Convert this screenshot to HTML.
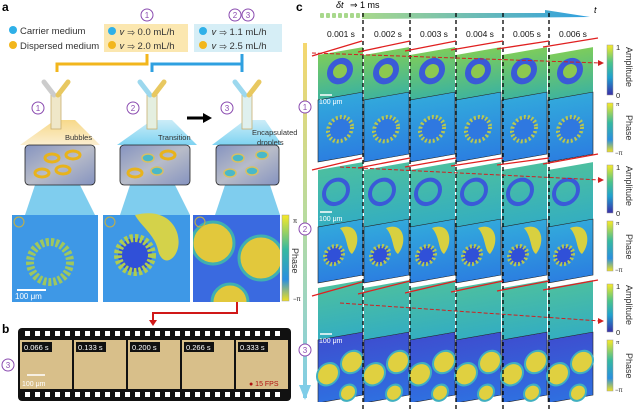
<!DOCTYPE html><html><head><style>body{margin:0;background:#fff}svg{display:block;font-family:"Liberation Sans",sans-serif}</style></head><body>
<svg width="639" height="410" viewBox="0 0 639 410" xmlns="http://www.w3.org/2000/svg">
<defs>
<linearGradient id="vbar" x1="0" y1="0" x2="0" y2="1"><stop offset="0" stop-color="#f5d76e"/><stop offset="0.5" stop-color="#b6dba0"/><stop offset="1" stop-color="#7fcde8"/></linearGradient>
<linearGradient id="cb" x1="0" y1="0" x2="0" y2="1"><stop offset="0" stop-color="#f9e926"/><stop offset="0.35" stop-color="#4cc48a"/><stop offset="0.65" stop-color="#1fa0cf"/><stop offset="1" stop-color="#3a2fa8"/></linearGradient>
<linearGradient id="cbp" x1="0" y1="0" x2="0" y2="1"><stop offset="0" stop-color="#f9e926"/><stop offset="0.4" stop-color="#36b9a0"/><stop offset="0.75" stop-color="#2a8fe0"/><stop offset="1" stop-color="#f0e020"/></linearGradient>
<linearGradient id="tarr" x1="0" y1="0" x2="1" y2="0"><stop offset="0" stop-color="#a8d88c"/><stop offset="1" stop-color="#2e9fe0"/></linearGradient>
<linearGradient id="amp1" x1="0" y1="0" x2="0" y2="1"><stop offset="0" stop-color="#7ccc5c"/><stop offset="1" stop-color="#3fb49c"/></linearGradient>
<linearGradient id="amp2" x1="0" y1="0" x2="0" y2="1"><stop offset="0" stop-color="#4cbfa0"/><stop offset="1" stop-color="#34aec0"/></linearGradient>
<linearGradient id="ph" x1="0" y1="0" x2="0" y2="1"><stop offset="0" stop-color="#32a8dc"/><stop offset="1" stop-color="#2b7fe0"/></linearGradient>
<linearGradient id="ph3" x1="0" y1="0" x2="0" y2="1"><stop offset="0" stop-color="#3d4fd0"/><stop offset="1" stop-color="#2f6fe0"/></linearGradient>
<linearGradient id="beamY" x1="0" y1="0" x2="0" y2="1"><stop offset="0" stop-color="#f7d98a"/><stop offset="1" stop-color="#fbeed0"/></linearGradient>
<linearGradient id="beamB" x1="0" y1="0" x2="0" y2="1"><stop offset="0" stop-color="#bfe8f6"/><stop offset="1" stop-color="#5ec8ee"/></linearGradient>
<linearGradient id="chip" x1="0" y1="0" x2="1" y2="1"><stop offset="0" stop-color="#8593c0"/><stop offset="0.5" stop-color="#b8bcc8"/><stop offset="1" stop-color="#8593c0"/></linearGradient>
</defs>

<text x="2" y="11" font-size="12" font-weight="bold">a</text>
<circle cx="13" cy="30" r="4" fill="#2fb0e8"/><text x="20" y="34" font-size="9.5" fill="#333">Carrier medium</text>
<circle cx="13" cy="45" r="4" fill="#f2b61c"/><text x="20" y="49" font-size="9.5" fill="#333">Dispersed medium</text>
<rect x="104" y="24" width="84" height="28" fill="#fbe7b0"/>
<circle cx="112" cy="31" r="4" fill="#2fb0e8"/><text x="120" y="35" font-size="9.5" fill="#333">𝜈 ⇒ 0.0 mL/h</text>
<circle cx="112" cy="45" r="4" fill="#f2b61c"/><text x="120" y="49" font-size="9.5" fill="#333">𝜈 ⇒ 2.0 mL/h</text>
<rect x="194" y="24" width="88" height="28" fill="#d6eef6"/>
<circle cx="203" cy="31" r="4" fill="#2fb0e8"/><text x="212" y="35" font-size="9.5" fill="#333">𝜈 ⇒ 1.1 mL/h</text>
<circle cx="203" cy="45" r="4" fill="#f2b61c"/><text x="212" y="49" font-size="9.5" fill="#333">𝜈 ⇒ 2.5 mL/h</text>
<g fill="none" stroke="#8a4bb0" stroke-width="1"><circle cx="147" cy="15" r="6"/><circle cx="235" cy="15" r="6"/><circle cx="248" cy="15" r="6"/></g>
<g font-size="8" fill="#8a4bb0" text-anchor="middle"><text x="147" y="18">1</text><text x="235" y="18">2</text><text x="248" y="18">3</text></g>
<path d="M147 54 V64 H57 V72" fill="none" stroke="#f2b61c" stroke-width="3"/>
<path d="M242 54 V64 H152 V72" fill="none" stroke="#2fa0e0" stroke-width="3"/>
<path d="M242 64 V72" stroke="#2fa0e0" stroke-width="3"/>
<g>
<polygon points="55,120 20,145 100,145 75,120" fill="url(#beamY)"/>
<polygon points="152,120 117,145 197,145 172,120" fill="url(#beamB)" opacity="0.8"/>
<polygon points="245,120 212,145 282,145 265,120" fill="url(#beamB)" opacity="0.8"/>
<polygon points="35,185 25,215 95,215 80,185" fill="#7fcdee"/>
<polygon points="130,185 120,215 190,215 175,185" fill="#7fcdee"/>
<polygon points="225,185 215,215 280,215 270,185" fill="#7fcdee"/>
</g>
<g fill="#efe7c8" stroke="#c8b070" stroke-width="0.8">
<rect x="51" y="95" width="10" height="34"/><rect x="147" y="95" width="10" height="34" fill="#e4efe0"/><rect x="242" y="95" width="10" height="34" fill="#dff0ee"/>
</g>
<g stroke-width="5" stroke-linecap="round">
<path d="M44 82 L54 95" stroke="#ccc"/><path d="M68 82 L58 95" stroke="#e8c860"/>
<path d="M140 82 L150 95" stroke="#9cd8ee"/><path d="M164 82 L154 95" stroke="#e8c860"/>
<path d="M235 82 L245 95" stroke="#9cd8ee"/><path d="M259 82 L249 95" stroke="#e8c860"/>
</g>
<g fill="none" stroke="#8a4bb0"><circle cx="38" cy="108" r="6"/><circle cx="133" cy="108" r="6"/><circle cx="227" cy="108" r="6"/></g>
<g font-size="8" fill="#8a4bb0" text-anchor="middle"><text x="38" y="111">1</text><text x="133" y="111">2</text><text x="227" y="111">3</text></g>
<path d="M187 118 H205" stroke="#000" stroke-width="3"/><polygon points="203,113 212,118 203,123"/>
<g font-size="7.5" fill="#333"><text x="65" y="140">Bubbles</text><text x="158" y="140">Transition</text><text x="252" y="135">Encapsulated</text><text x="257" y="145">droplets</text></g>
<g stroke="#222" stroke-width="0.8">
<rect x="25" y="145" width="70" height="40" rx="4" fill="url(#chip)"/>
<rect x="120" y="145" width="70" height="40" rx="4" fill="url(#chip)"/>
<rect x="216" y="145" width="63" height="40" rx="4" fill="url(#chip)"/>
</g>
<g fill="none" stroke="#e8b31c" stroke-width="3">
<ellipse cx="52" cy="158" rx="7" ry="4"/><ellipse cx="73" cy="155" rx="7" ry="4"/><ellipse cx="42" cy="173" rx="7" ry="4"/><ellipse cx="63" cy="170" rx="7" ry="4"/>
<ellipse cx="168" cy="155" rx="7" ry="4"/><ellipse cx="135" cy="173" rx="7" ry="4"/>
</g>
<g fill="#4ab8c8" stroke="#d8c060" stroke-width="1.5">
<ellipse cx="148" cy="158" rx="6" ry="4"/><ellipse cx="157" cy="171" rx="6" ry="4"/>
<ellipse cx="238" cy="158" rx="6" ry="4"/><ellipse cx="262" cy="155" rx="6" ry="4"/><ellipse cx="230" cy="173" rx="6" ry="4"/><ellipse cx="252" cy="171" rx="6" ry="4"/>
</g>
<rect x="12" y="215" width="86" height="87" fill="#3e98e6"/>
<circle cx="50" cy="262" r="20" fill="none" stroke="#a8cc50" stroke-width="8" stroke-dasharray="3 2" opacity="0.9"/>
<rect x="103" y="215" width="87" height="87" fill="#3e98e6"/>
<path d="M135 215 C175 205 185 240 175 255 C168 265 160 260 158 250 C155 235 140 225 135 215Z" fill="#d4d24a"/>
<circle cx="135" cy="255" r="17" fill="#3050d8" stroke="#b0cc50" stroke-width="8" stroke-dasharray="3 2"/>
<svg x="193" y="215" width="87" height="87"><rect width="87" height="87" fill="#3a6ae0"/>
<g fill="#e2c83c" stroke="#40b0b0" stroke-width="3"><circle cx="20" cy="28" r="21"/><circle cx="68" cy="43" r="22"/><circle cx="37" cy="87" r="18"/></g></svg>
<rect x="282" y="215" width="7" height="86" fill="url(#cbp)" stroke="#999" stroke-width="0.5"/>
<text x="293" y="223" font-size="6">π</text><text x="293" y="301" font-size="6">−π</text>
<text transform="translate(292,248) rotate(90)" font-size="9" fill="#333">Phase</text>
<g fill="none" stroke="#c8b040"><circle cx="19" cy="222" r="5"/><circle cx="110" cy="222" r="5"/><circle cx="200" cy="222" r="5"/></g>
<path d="M17 290 H46" stroke="#fff" stroke-width="2"/><text x="15" y="299" font-size="8" fill="#fff">100 μm</text>
<path d="M237 302 V313 H153 V322" fill="none" stroke="#d01818" stroke-width="2"/><polygon points="149,320 157,320 153,326" fill="#d01818"/>
<text x="2" y="333" font-size="12" font-weight="bold">b</text>
<rect x="18" y="328" width="273" height="73" rx="4" fill="#111"/>
<g fill="#fff">
<rect x="25" y="331" width="5" height="5"/><rect x="35" y="331" width="5" height="5"/><rect x="45" y="331" width="5" height="5"/><rect x="55" y="331" width="5" height="5"/><rect x="65" y="331" width="5" height="5"/><rect x="75" y="331" width="5" height="5"/><rect x="85" y="331" width="5" height="5"/><rect x="95" y="331" width="5" height="5"/><rect x="105" y="331" width="5" height="5"/><rect x="115" y="331" width="5" height="5"/><rect x="125" y="331" width="5" height="5"/><rect x="135" y="331" width="5" height="5"/><rect x="145" y="331" width="5" height="5"/><rect x="155" y="331" width="5" height="5"/><rect x="165" y="331" width="5" height="5"/><rect x="175" y="331" width="5" height="5"/><rect x="185" y="331" width="5" height="5"/><rect x="195" y="331" width="5" height="5"/><rect x="205" y="331" width="5" height="5"/><rect x="215" y="331" width="5" height="5"/><rect x="225" y="331" width="5" height="5"/><rect x="235" y="331" width="5" height="5"/><rect x="245" y="331" width="5" height="5"/><rect x="255" y="331" width="5" height="5"/><rect x="265" y="331" width="5" height="5"/><rect x="275" y="331" width="5" height="5"/>
<rect x="25" y="392" width="5" height="5"/><rect x="35" y="392" width="5" height="5"/><rect x="45" y="392" width="5" height="5"/><rect x="55" y="392" width="5" height="5"/><rect x="65" y="392" width="5" height="5"/><rect x="75" y="392" width="5" height="5"/><rect x="85" y="392" width="5" height="5"/><rect x="95" y="392" width="5" height="5"/><rect x="105" y="392" width="5" height="5"/><rect x="115" y="392" width="5" height="5"/><rect x="125" y="392" width="5" height="5"/><rect x="135" y="392" width="5" height="5"/><rect x="145" y="392" width="5" height="5"/><rect x="155" y="392" width="5" height="5"/><rect x="165" y="392" width="5" height="5"/><rect x="175" y="392" width="5" height="5"/><rect x="185" y="392" width="5" height="5"/><rect x="195" y="392" width="5" height="5"/><rect x="205" y="392" width="5" height="5"/><rect x="215" y="392" width="5" height="5"/><rect x="225" y="392" width="5" height="5"/><rect x="235" y="392" width="5" height="5"/><rect x="245" y="392" width="5" height="5"/><rect x="255" y="392" width="5" height="5"/><rect x="265" y="392" width="5" height="5"/><rect x="275" y="392" width="5" height="5"/>
</g>
<g fill="#d8bf8a"><rect x="20" y="340" width="52" height="49"/><rect x="74" y="340" width="52" height="49"/><rect x="128" y="340" width="52" height="49"/><rect x="182" y="340" width="52" height="49"/><rect x="236" y="340" width="52" height="49"/></g>
<g fill="#111"><rect x="22" y="342" width="30" height="10"/><rect x="76" y="342" width="30" height="10"/><rect x="130" y="342" width="30" height="10"/><rect x="184" y="342" width="30" height="10"/><rect x="238" y="342" width="30" height="10"/></g>
<g font-size="7.5" fill="#fff"><text x="24" y="350">0.066 s</text><text x="78" y="350">0.133 s</text><text x="132" y="350">0.200 s</text><text x="186" y="350">0.266 s</text><text x="240" y="350">0.333 s</text></g>
<path d="M27 375 H45" stroke="#fff" stroke-width="1.5"/><text x="22" y="386" font-size="7" fill="#fff">100 μm</text>
<text x="249" y="386" font-size="7" fill="#b01010">● 15 FPS</text>
<circle cx="8" cy="365" r="6" fill="none" stroke="#8a4bb0"/><text x="8" y="368" font-size="8" fill="#8a4bb0" text-anchor="middle">3</text>

<text x="296" y="11" font-size="12" font-weight="bold">c</text>
<rect x="303" y="43" width="4" height="355" fill="url(#vbar)"/>
<polygon points="299,385 311,385 305,400" fill="#7fcde8"/>
<g fill="#fff" stroke="#8a4bb0"><circle cx="305" cy="107" r="6"/><circle cx="305" cy="229" r="6"/><circle cx="305" cy="350" r="6"/></g>
<g font-size="8" fill="#8a4bb0" text-anchor="middle"><text x="305" y="110">1</text><text x="305" y="232">2</text><text x="305" y="353">3</text></g>
<g fill="#a8d88c"><rect x="320" y="13" width="4" height="5" rx="1"/><rect x="326" y="13" width="4" height="5" rx="1"/><rect x="332" y="13" width="4" height="5" rx="1"/><rect x="338" y="13" width="4" height="5" rx="1"/><rect x="344" y="13" width="4" height="5" rx="1"/><rect x="350" y="13" width="4" height="5" rx="1"/><rect x="356" y="13" width="4" height="5" rx="1"/></g>
<polygon points="362,13 545,13 545,10 590,17 362,19" fill="url(#tarr)"/>
<text x="336" y="8" font-size="9" font-style="italic">δt</text><text x="350" y="8" font-size="9">⇒ 1 ms</text>
<text x="594" y="13" font-size="9" font-style="italic">t</text>
<g font-size="8.5" fill="#111" text-anchor="middle"><text x="341" y="37">0.001 s</text><text x="388" y="37">0.002 s</text><text x="434" y="37">0.003 s</text><text x="480" y="37">0.004 s</text><text x="527" y="37">0.005 s</text><text x="573" y="37">0.006 s</text></g>

<g>
<g transform="translate(318,55) skewY(-10)"><rect width="45" height="45" fill="url(#amp1)"/><rect y="45" width="45" height="62" fill="url(#ph)" stroke="#222" stroke-width="0.6"/><circle cx="22" cy="20" r="10" fill="#8cc850" stroke="#3a5ad8" stroke-width="6"/><circle cx="22" cy="78" r="12" fill="#2f78e0" stroke="#b8c850" stroke-width="4" stroke-dasharray="2 2"/></g>
<g transform="translate(364,55) skewY(-10)"><rect width="45" height="45" fill="url(#amp1)"/><rect y="45" width="45" height="62" fill="url(#ph)" stroke="#222" stroke-width="0.6"/><circle cx="22" cy="20" r="10" fill="#8cc850" stroke="#3a5ad8" stroke-width="6"/><circle cx="22" cy="78" r="12" fill="#2f78e0" stroke="#b8c850" stroke-width="4" stroke-dasharray="2 2"/></g>
<g transform="translate(410,55) skewY(-10)"><rect width="45" height="45" fill="url(#amp1)"/><rect y="45" width="45" height="62" fill="url(#ph)" stroke="#222" stroke-width="0.6"/><circle cx="22" cy="20" r="10" fill="#8cc850" stroke="#3a5ad8" stroke-width="6"/><circle cx="22" cy="78" r="12" fill="#2f78e0" stroke="#b8c850" stroke-width="4" stroke-dasharray="2 2"/></g>
<g transform="translate(456,55) skewY(-10)"><rect width="45" height="45" fill="url(#amp1)"/><rect y="45" width="45" height="62" fill="url(#ph)" stroke="#222" stroke-width="0.6"/><circle cx="22" cy="20" r="10" fill="#8cc850" stroke="#3a5ad8" stroke-width="6"/><circle cx="22" cy="78" r="12" fill="#2f78e0" stroke="#b8c850" stroke-width="4" stroke-dasharray="2 2"/></g>
<g transform="translate(502,55) skewY(-10)"><rect width="45" height="45" fill="url(#amp1)"/><rect y="45" width="45" height="62" fill="url(#ph)" stroke="#222" stroke-width="0.6"/><circle cx="22" cy="20" r="10" fill="#8cc850" stroke="#3a5ad8" stroke-width="6"/><circle cx="22" cy="78" r="12" fill="#2f78e0" stroke="#b8c850" stroke-width="4" stroke-dasharray="2 2"/></g>
<g transform="translate(548,55) skewY(-10)"><rect width="45" height="45" fill="url(#amp1)"/><rect y="45" width="45" height="62" fill="url(#ph)" stroke="#222" stroke-width="0.6"/><circle cx="22" cy="20" r="10" fill="#8cc850" stroke="#3a5ad8" stroke-width="6"/><circle cx="22" cy="78" r="12" fill="#2f78e0" stroke="#b8c850" stroke-width="4" stroke-dasharray="2 2"/></g>
<g transform="translate(318,170) skewY(-10)"><rect width="45" height="57" fill="url(#amp2)"/><rect y="57" width="45" height="56" fill="url(#ph)" stroke="#222" stroke-width="0.6"/><circle cx="18" cy="25" r="12" fill="none" stroke="#3a5ad8" stroke-width="4"/><path d="M22 62 C40 58 44 80 34 90 C28 85 30 72 22 62Z" fill="#d8d040"/><circle cx="16" cy="88" r="9" fill="#3050d8" stroke="#b8c850" stroke-width="4" stroke-dasharray="2 2"/></g>
<g transform="translate(364,170) skewY(-10)"><rect width="45" height="57" fill="url(#amp2)"/><rect y="57" width="45" height="56" fill="url(#ph)" stroke="#222" stroke-width="0.6"/><circle cx="18" cy="25" r="12" fill="none" stroke="#3a5ad8" stroke-width="4"/><path d="M22 62 C40 58 44 80 34 90 C28 85 30 72 22 62Z" fill="#d8d040"/><circle cx="16" cy="88" r="9" fill="#3050d8" stroke="#b8c850" stroke-width="4" stroke-dasharray="2 2"/></g>
<g transform="translate(410,170) skewY(-10)"><rect width="45" height="57" fill="url(#amp2)"/><rect y="57" width="45" height="56" fill="url(#ph)" stroke="#222" stroke-width="0.6"/><circle cx="18" cy="25" r="12" fill="none" stroke="#3a5ad8" stroke-width="4"/><path d="M22 62 C40 58 44 80 34 90 C28 85 30 72 22 62Z" fill="#d8d040"/><circle cx="16" cy="88" r="9" fill="#3050d8" stroke="#b8c850" stroke-width="4" stroke-dasharray="2 2"/></g>
<g transform="translate(456,170) skewY(-10)"><rect width="45" height="57" fill="url(#amp2)"/><rect y="57" width="45" height="56" fill="url(#ph)" stroke="#222" stroke-width="0.6"/><circle cx="18" cy="25" r="12" fill="none" stroke="#3a5ad8" stroke-width="4"/><path d="M22 62 C40 58 44 80 34 90 C28 85 30 72 22 62Z" fill="#d8d040"/><circle cx="16" cy="88" r="9" fill="#3050d8" stroke="#b8c850" stroke-width="4" stroke-dasharray="2 2"/></g>
<g transform="translate(502,170) skewY(-10)"><rect width="45" height="57" fill="url(#amp2)"/><rect y="57" width="45" height="56" fill="url(#ph)" stroke="#222" stroke-width="0.6"/><circle cx="18" cy="25" r="12" fill="none" stroke="#3a5ad8" stroke-width="4"/><path d="M22 62 C40 58 44 80 34 90 C28 85 30 72 22 62Z" fill="#d8d040"/><circle cx="16" cy="88" r="9" fill="#3050d8" stroke="#b8c850" stroke-width="4" stroke-dasharray="2 2"/></g>
<g transform="translate(548,170) skewY(-10)"><rect width="45" height="57" fill="url(#amp2)"/><rect y="57" width="45" height="56" fill="url(#ph)" stroke="#222" stroke-width="0.6"/><circle cx="18" cy="25" r="12" fill="none" stroke="#3a5ad8" stroke-width="4"/><path d="M22 62 C40 58 44 80 34 90 C28 85 30 72 22 62Z" fill="#d8d040"/><circle cx="16" cy="88" r="9" fill="#3050d8" stroke="#b8c850" stroke-width="4" stroke-dasharray="2 2"/></g>
<g transform="translate(318,288) skewY(-10)"><rect width="45" height="52" fill="url(#amp2)"/><rect y="52" width="45" height="63" fill="url(#ph3)" stroke="#222" stroke-width="0.6"/><g fill="#e0d040" stroke="#40b0c0" stroke-width="2"><circle cx="10" cy="88" r="11"/><circle cx="34" cy="80" r="11"/><circle cx="30" cy="110" r="8"/></g></g>
<g transform="translate(364,288) skewY(-10)"><rect width="45" height="52" fill="url(#amp2)"/><rect y="52" width="45" height="63" fill="url(#ph3)" stroke="#222" stroke-width="0.6"/><g fill="#e0d040" stroke="#40b0c0" stroke-width="2"><circle cx="10" cy="88" r="11"/><circle cx="34" cy="80" r="11"/><circle cx="30" cy="110" r="8"/></g></g>
<g transform="translate(410,288) skewY(-10)"><rect width="45" height="52" fill="url(#amp2)"/><rect y="52" width="45" height="63" fill="url(#ph3)" stroke="#222" stroke-width="0.6"/><g fill="#e0d040" stroke="#40b0c0" stroke-width="2"><circle cx="10" cy="88" r="11"/><circle cx="34" cy="80" r="11"/><circle cx="30" cy="110" r="8"/></g></g>
<g transform="translate(456,288) skewY(-10)"><rect width="45" height="52" fill="url(#amp2)"/><rect y="52" width="45" height="63" fill="url(#ph3)" stroke="#222" stroke-width="0.6"/><g fill="#e0d040" stroke="#40b0c0" stroke-width="2"><circle cx="10" cy="88" r="11"/><circle cx="34" cy="80" r="11"/><circle cx="30" cy="110" r="8"/></g></g>
<g transform="translate(502,288) skewY(-10)"><rect width="45" height="52" fill="url(#amp2)"/><rect y="52" width="45" height="63" fill="url(#ph3)" stroke="#222" stroke-width="0.6"/><g fill="#e0d040" stroke="#40b0c0" stroke-width="2"><circle cx="10" cy="88" r="11"/><circle cx="34" cy="80" r="11"/><circle cx="30" cy="110" r="8"/></g></g>
<g transform="translate(548,288) skewY(-10)"><rect width="45" height="52" fill="url(#amp2)"/><rect y="52" width="45" height="63" fill="url(#ph3)" stroke="#222" stroke-width="0.6"/><g fill="#e0d040" stroke="#40b0c0" stroke-width="2"><circle cx="10" cy="88" r="11"/><circle cx="34" cy="80" r="11"/><circle cx="30" cy="110" r="8"/></g></g>
</g>
<rect x="300" y="402" width="300" height="8" fill="#fff"/>
<g stroke="#000" stroke-width="1.3" stroke-dasharray="4 3"><path d="M363 13 V410"/><path d="M410 13 V410"/><path d="M456 13 V410"/><path d="M503 13 V410"/><path d="M549 13 V410"/></g>
<g stroke="#e02020" stroke-width="1.3">
<path d="M312 56 L362 41"/><path d="M358 52 L410 41"/><path d="M405 51 L456 41"/><path d="M451 50 L503 41"/><path d="M497 49 L549 41"/><path d="M543 47 L598 38"/>
<path d="M312 170 L362 158"/><path d="M358 168 L410 158"/><path d="M405 167 L456 158"/><path d="M451 166 L503 158"/><path d="M497 165 L549 158"/><path d="M543 164 L598 154"/>
<path d="M312 296 L362 282"/><path d="M358 294 L410 281"/><path d="M405 293 L456 281"/><path d="M451 292 L503 281"/><path d="M497 291 L549 281"/><path d="M543 290 L598 280"/>
</g>
<g stroke="#d02020" stroke-width="1" stroke-dasharray="4 2"><path d="M312 53 L600 63"/><path d="M340 167 L600 180"/><path d="M340 303 L600 321"/></g>
<g fill="#d02020"><polygon points="598,60 604,63 598,66"/><polygon points="598,177 604,180 598,183"/><polygon points="598,318 604,321 598,324"/></g>
<g fill="#fff" font-size="7"><path d="M320 95 H332" stroke="#fff" stroke-width="1.5"/><text x="319" y="104">100 μm</text><path d="M320 212 H332" stroke="#fff" stroke-width="1.5"/><text x="319" y="221">100 μm</text><path d="M320 334 H332" stroke="#fff" stroke-width="1.5"/><text x="319" y="343">100 μm</text></g>
<g stroke="#999" stroke-width="0.5">
<rect x="607" y="45" width="6" height="50" fill="url(#cb)"/><rect x="607" y="103" width="6" height="49" fill="url(#cbp)"/>
<rect x="607" y="165" width="6" height="48" fill="url(#cb)"/><rect x="607" y="221" width="6" height="50" fill="url(#cbp)"/>
<rect x="607" y="284" width="6" height="48" fill="url(#cb)"/><rect x="607" y="340" width="6" height="51" fill="url(#cbp)"/>
</g>
<g font-size="7.5" fill="#222"><text x="616" y="50">1</text><text x="616" y="98">0</text><text x="616" y="106" font-size="5">π</text><text x="615" y="155" font-size="6">−π</text>
<text x="616" y="170">1</text><text x="616" y="216">0</text><text x="616" y="225" font-size="5">π</text><text x="615" y="272" font-size="6">−π</text>
<text x="616" y="289">1</text><text x="616" y="335">0</text><text x="616" y="344" font-size="5">π</text><text x="615" y="392" font-size="6">−π</text></g>
<g font-size="9" fill="#333">
<text transform="translate(626,47) rotate(90)">Amplitude</text><text transform="translate(626,115) rotate(90)">Phase</text>
<text transform="translate(626,166) rotate(90)">Amplitude</text><text transform="translate(626,234) rotate(90)">Phase</text>
<text transform="translate(626,285) rotate(90)">Amplitude</text><text transform="translate(626,353) rotate(90)">Phase</text>
</g>
</svg>
</body></html>
